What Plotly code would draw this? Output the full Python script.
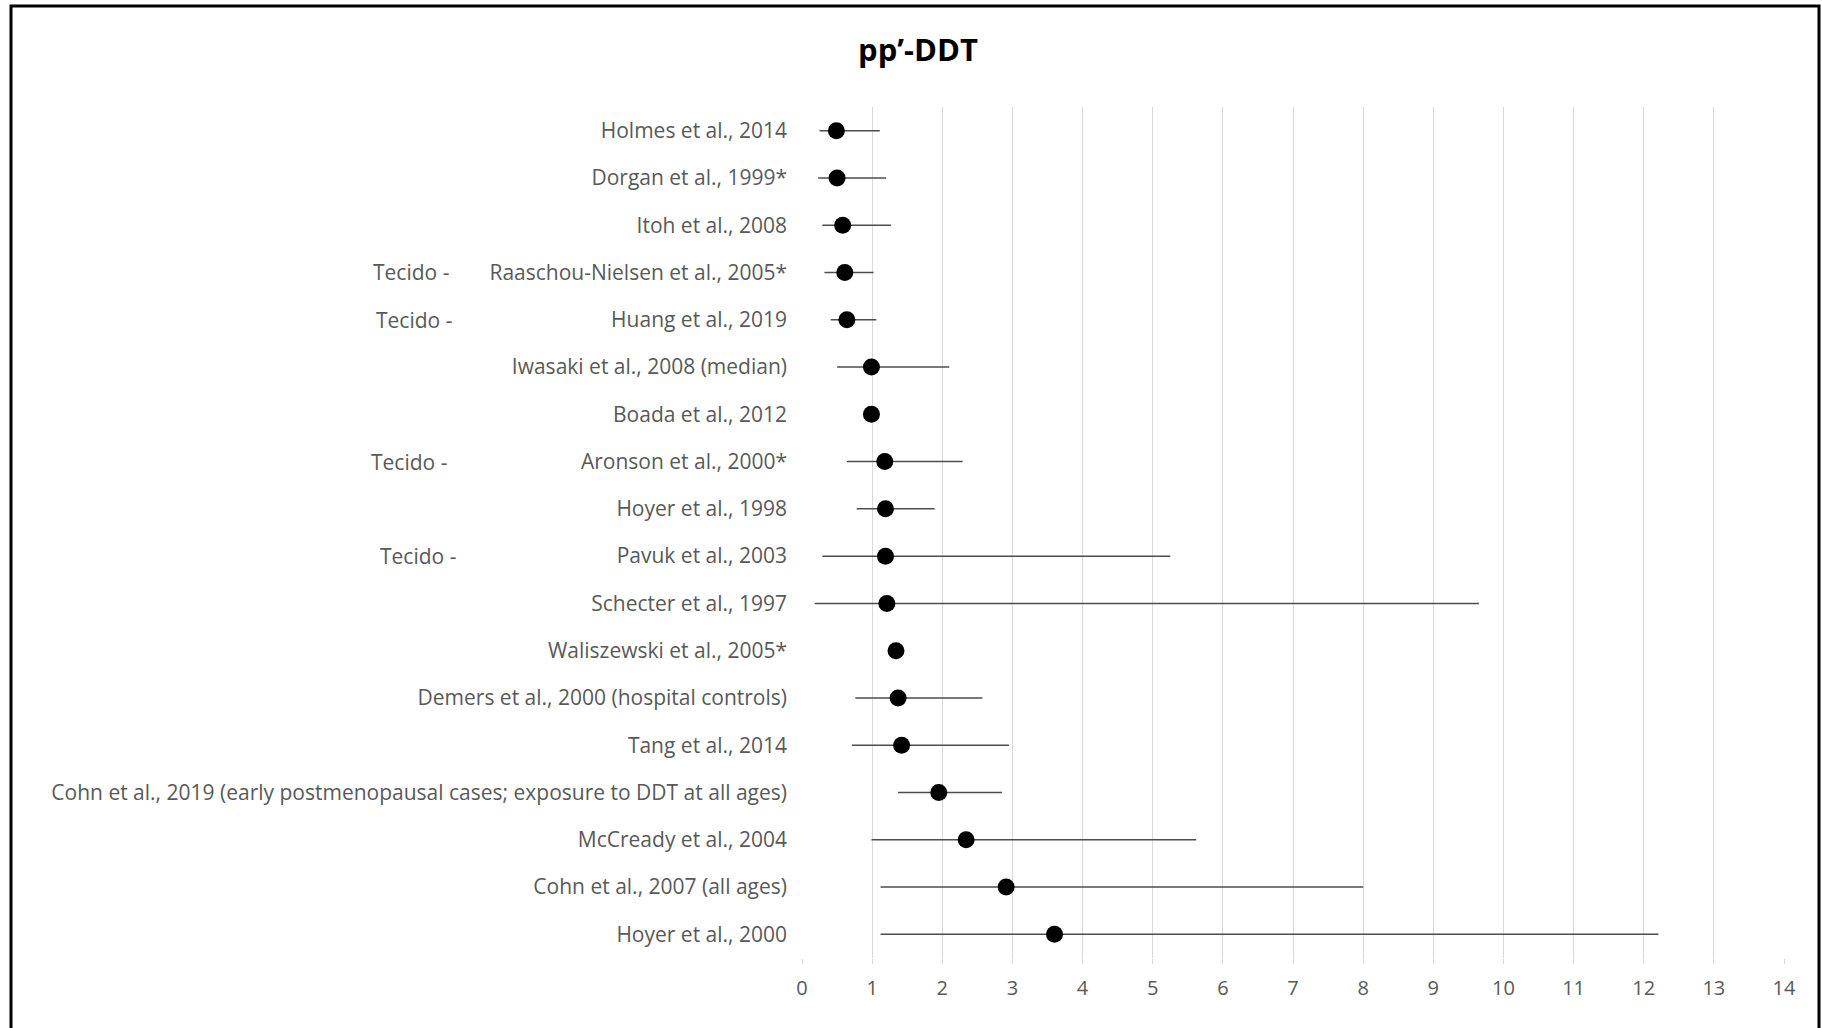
import plotly.graph_objects as go

# Studies, top to bottom
studies = [
    "Holmes et al., 2014",
    "Dorgan et al., 1999*",
    "Itoh et al., 2008",
    "Raaschou-Nielsen et al., 2005*",
    "Huang et al., 2019",
    "Iwasaki et al., 2008 (median)",
    "Boada et al., 2012",
    "Aronson et al., 2000*",
    "Hoyer et al., 1998",
    "Pavuk et al., 2003",
    "Schecter et al., 1997",
    "Waliszewski et al., 2005*",
    "Demers et al., 2000 (hospital controls)",
    "Tang et al., 2014",
    "Cohn et al., 2019 (early postmenopausal cases; exposure to DDT at all ages)",
    "McCready et al., 2004",
    "Cohn et al., 2007 (all ages)",
    "Hoyer et al., 2000",
]

# Point estimates and confidence limits (None = no interval reported)
estimate = [0.49, 0.50, 0.58, 0.61, 0.64, 0.99, 0.99, 1.18, 1.19, 1.19,
            1.21, 1.34, 1.37, 1.42, 1.95, 2.34, 2.91, 3.60]
lower = [0.25, 0.23, 0.29, 0.32, 0.41, 0.50, None, 0.64, 0.78, 0.29,
         0.18, None, 0.76, 0.71, 1.37, 0.99, 1.12, 1.12]
upper = [1.11, 1.20, 1.27, 1.02, 1.06, 2.10, None, 2.29, 1.89, 5.25,
         9.65, None, 2.57, 2.95, 2.85, 5.62, 8.00, 12.21]

# Studies measured in tissue
tissue_studies = ["Raaschou-Nielsen et al., 2005*", "Huang et al., 2019",
                  "Aronson et al., 2000*", "Pavuk et al., 2003"]
tissue_label = "Tecido -"

x_ticks = list(range(0, 15))

plus = [(u - e) if u is not None else 0 for e, u in zip(estimate, upper)]
minus = [(e - l) if l is not None else 0 for e, l in zip(estimate, lower)]

W, H = 1822, 1028
ML, MR, MT, MB = 802, 38, 107, 70
PW, PH = W - ML - MR, H - MT - MB

# left edges (px) of the side notes
tissue_note_left = [371, 374, 369, 378]


def px(xp):
    return (xp - ML) / PW


def py(yp):
    return 1 - (yp - MT) / PH


FONT = "Open Sans"
GREY = "#595959"
FS = 21

fig = go.Figure()
fig.add_trace(go.Scatter(
    x=estimate,
    y=studies,
    mode="markers",
    marker=dict(color="black", size=17, symbol="circle"),
    error_x=dict(type="data", symmetric=False, array=plus, arrayminus=minus,
                 color="#4d4d4d", thickness=1.5, width=0),
    showlegend=False,
    hoverinfo="x+y",
))

for s, left in zip(tissue_studies, tissue_note_left):
    fig.add_annotation(x=px(left), xref="paper", y=s, yref="y",
                       text=tissue_label, showarrow=False, xanchor="left",
                       font=dict(family=FONT, size=FS, color=GREY))

# Outer chart frame
fig.add_shape(type="rect", xref="paper", yref="paper",
              x0=px(11), x1=px(1819), y0=py(1040), y1=py(6),
              line=dict(color="black", width=3), fillcolor="rgba(0,0,0,0)",
              layer="above")

fig.update_layout(
    width=W, height=H,
    margin=dict(l=ML, r=MR, t=MT, b=MB),
    paper_bgcolor="white",
    plot_bgcolor="white",
    title=dict(text="<b>pp\u2019-DDT</b>", xref="container", x=918 / W,
               xanchor="center", yref="container", y=1 - 50 / H,
               yanchor="middle",
               font=dict(family=FONT, size=31, color="black")),
    xaxis=dict(range=[0, 14], tickvals=x_ticks, showgrid=True,
               gridcolor="#d9d9d9", gridwidth=1, zeroline=False,
               showline=False, ticks="outside", ticklen=5,
               tickcolor="#d9d9d9", ticklabelstandoff=7,
               tickfont=dict(family=FONT, size=20, color=GREY),
               fixedrange=True),
    yaxis=dict(categoryorder="array", categoryarray=studies,
               range=[17.5, -0.5], showgrid=False, zeroline=False,
               showline=False, ticks="", ticklabelstandoff=14,
               tickfont=dict(family=FONT, size=FS, color=GREY),
               fixedrange=True),
)

fig.write_html("out.html")
